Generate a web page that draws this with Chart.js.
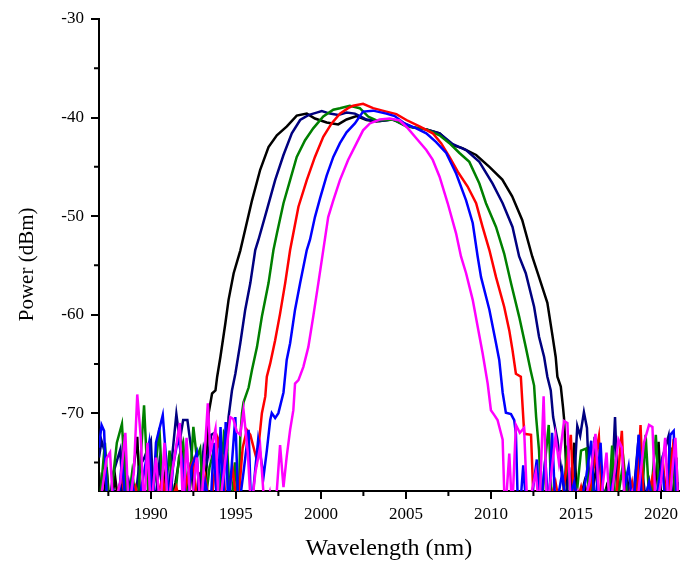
<!DOCTYPE html>
<html>
<head>
<meta charset="utf-8">
<script src="https://cdn.jsdelivr.net/npm/chart.js@4.4.1/dist/chart.umd.min.js"></script>
<style>
  body { margin: 0; background: #fff; }
  #wrap { width: 683px; height: 565px; }
</style>
</head>
<body>
<div id="wrap"><canvas id="spektrum" width="683" height="565"></canvas></div>
<script>
// spectra: [wavelength nm, power dBm]
// values below -78 are the noise dips that fall under the axis
var blackTrace = [
  [1986.95,-76.0],[1987.15,-80],[1987.4,-75.5],[1987.6,-80],[1987.9,-76.5],[1988.15,-80],[1988.4,-72.2],[1988.6,-80],
  [1988.9,-77.0],[1989.2,-72.4],[1989.4,-80],[1989.75,-78.2],[1990.0,-80],[1990.3,-75.0],[1990.5,-80],[1990.85,-76.0],
  [1991.1,-80],[1991.45,-77.0],[1991.8,-73.4],[1992.05,-80],[1992.35,-75.0],[1992.6,-80],[1992.85,-76.0],[1993.05,-80],
  [1993.21,-77.8],[1993.40,-70.0],[1993.60,-68.0],[1993.80,-67.7],[1993.90,-66.3],[1994.09,-64.3],[1994.38,-60.9],
  [1994.57,-58.5],[1994.87,-55.8],[1995.26,-53.5],[1995.45,-52.1],[1995.95,-48.4],[1996.43,-45.3],[1996.92,-43.0],
  [1997.41,-41.8],[1998.0,-40.9],[1998.58,-39.8],[1999.17,-39.6],[1999.65,-40.1],[2000.34,-40.5],[2001.02,-40.7],
  [2001.51,-40.2],[2002.10,-39.85],[2002.68,-40.25],[2003.27,-40.4],[2004.15,-40.2],[2004.63,-40.4],[2005.40,-41.0],
  [2006.20,-41.2],[2006.98,-41.6],[2007.74,-42.8],[2008.32,-43.1],[2009.13,-43.8],[2009.91,-45.0],[2010.67,-46.3],
  [2011.25,-48.0],[2011.84,-50.4],[2012.43,-54.1],[2012.83,-56.2],[2013.32,-58.8],[2013.60,-61.9],[2013.81,-64.3],
  [2013.91,-66.3],[2014.11,-67.3],[2014.24,-69.4],[2014.30,-70.5],[2014.48,-77.8],
  [2014.6,-80],[2014.9,-73.0],[2015.1,-80],[2015.5,-77],[2015.8,-80],[2016.2,-75.5],[2016.45,-80],[2016.8,-77.5],
  [2017.1,-80],[2017.4,-74.0],[2017.6,-80],[2018.0,-76.5],[2018.3,-80],[2018.7,-75.0],[2018.95,-80],[2019.3,-77],
  [2019.55,-80],[2019.86,-72.9],[2020.05,-80],[2020.4,-76],[2020.65,-80],[2020.9,-74.5],[2021.05,-80]
];
var navyTrace = [
  [1986.95,-74.5],[1987.1,-72.8],[1987.3,-74.0],[1987.5,-80],[1987.8,-76],[1988.2,-73.7],[1988.4,-80],[1988.7,-77],
  [1989.0,-80],[1989.3,-75.5],[1989.6,-74.6],[1990.0,-72.8],[1990.2,-80],[1990.5,-75.0],[1990.8,-80],[1991.1,-77],
  [1991.5,-70.1],[1991.7,-72.8],[1991.9,-70.7],[1992.15,-70.7],[1992.4,-74.0],[1992.65,-80],[1992.9,-77.0],[1993.1,-73.6],
  [1993.3,-75.0],[1993.55,-72.2],[1993.75,-72.0],[1993.95,-72.6],[1994.15,-73.0],[1994.3,-74.0],
  [1994.48,-73.8],[1994.57,-70.4],[1994.77,-67.7],[1994.97,-66.0],[1995.26,-62.9],[1995.55,-59.5],[1995.85,-56.8],
  [1996.14,-53.45],[1996.33,-52.4],[1996.82,-49.4],[1997.31,-46.35],[1997.80,-43.8],[1998.29,-41.6],[1998.78,-40.25],
  [1999.26,-39.75],[1999.75,-39.5],[2000.05,-39.35],[2000.53,-39.6],[2001.02,-39.75],[2001.51,-39.5],[2002.0,-39.6],
  [2002.29,-39.85],[2002.68,-40.2],[2003.46,-40.35],[2004.24,-40.2],[2005.03,-40.9],[2006.20,-41.2],[2006.98,-41.6],
  [2007.76,-42.7],[2008.54,-43.3],[2009.32,-44.5],[2010.10,-46.7],[2010.69,-48.7],[2011.27,-51.1],[2011.66,-54.1],
  [2012.05,-55.8],[2012.54,-59.2],[2012.83,-62.25],[2013.13,-64.3],[2013.32,-66.3],[2013.52,-67.7],[2013.66,-70.4],
  [2013.91,-72.7],[2014.11,-75.45],[2014.30,-77.8],
  [2014.35,-80],[2014.6,-75.5],[2014.8,-80],[2015.08,-71.3],[2015.25,-72.3],[2015.47,-69.9],[2015.65,-71.5],[2015.85,-80],
  [2016.1,-72.4],[2016.35,-80],[2016.8,-78],[2017.05,-80],[2017.3,-70.4],[2017.5,-80],[2018.0,-77],[2018.3,-80],
  [2018.7,-72.2],[2018.9,-76],[2019.2,-80],[2019.55,-77],[2019.8,-80],[2020.06,-74.7],[2020.45,-72.3],[2020.7,-80],
  [2021.05,-77]
];
var greenTrace = [
  [1986.95,-80],[1987.3,-73.0],[1987.55,-80],[1988.0,-73.0],[1988.3,-71.1],[1988.6,-80],[1988.9,-76],[1989.2,-80],
  [1989.6,-69.2],[1989.9,-80],[1990.2,-77],[1990.5,-71.5],[1990.75,-80],[1991.1,-73.8],[1991.35,-80],[1991.65,-74.5],
  [1991.9,-73.0],[1992.2,-80],[1992.5,-71.4],[1992.7,-74.5],[1992.9,-73.6],[1993.15,-80],[1993.45,-75.5],[1993.7,-73.8],
  [1994.0,-80],[1994.3,-72.0],[1994.45,-72.5],[1994.7,-80],[1994.95,-75],[1995.15,-80],
  [1995.26,-72.4],[1995.36,-70.0],[1995.45,-68.9],[1995.75,-67.4],[1995.95,-65.6],[1996.24,-63.3],[1996.53,-60.2],
  [1996.92,-56.8],[1997.21,-53.45],[1997.41,-51.8],[1997.80,-48.7],[1998.19,-46.35],[1998.58,-44.0],[1999.07,-42.3],
  [1999.55,-41.1],[2000.14,-39.9],[2000.73,-39.2],[2001.12,-39.05],[2001.70,-38.8],[2002.29,-39.05],[2002.78,-39.9],
  [2003.27,-40.3],[2004.24,-40.2],[2005.03,-40.9],[2006.20,-41.2],[2006.98,-41.8],[2007.56,-42.6],[2008.15,-43.6],
  [2008.73,-44.5],[2009.32,-46.7],[2009.71,-48.7],[2010.30,-51.1],[2010.78,-53.8],[2011.18,-56.8],[2011.66,-60.2],
  [2012.05,-63.3],[2012.34,-65.7],[2012.54,-67.2],[2012.66,-70.4],[2012.83,-73.8],[2012.93,-77.8],
  [2013.0,-80],[2013.13,-75.9],[2013.4,-71.2],[2013.6,-80],[2014.0,-78],[2014.2,-80],[2014.5,-73.3],[2014.7,-80],
  [2015.0,-79],[2015.3,-73.8],[2015.6,-73.6],[2015.8,-80],[2015.96,-76.4],[2016.2,-80],[2016.7,-78],[2016.9,-80],
  [2017.13,-73.3],[2017.35,-80],[2017.8,-74.8],[2018.1,-80],[2018.6,-77],[2018.85,-80],[2019.1,-72.2],[2019.35,-80],
  [2019.7,-72.2],[2019.95,-80],[2020.4,-78],[2020.65,-73.5],[2020.9,-80]
];
var redTrace = [
  [1986.95,-80],[1987.4,-78],[1987.7,-80],[1988.3,-76.5],[1988.6,-80],[1989.1,-77.5],[1989.4,-80],[1989.9,-78],
  [1990.15,-80],[1990.7,-76.5],[1990.95,-80],[1991.5,-77.5],[1991.8,-80],[1992.2,-76],[1992.5,-74.8],[1992.75,-80],
  [1993.2,-76.5],[1993.5,-80],[1993.95,-72.7],[1994.2,-74.5],[1994.45,-80],[1994.8,-75.5],[1995.1,-80],[1995.4,-73.5],
  [1995.65,-71.7],[1995.85,-72.2],[1996.24,-74.8],[1996.33,-73.4],[1996.53,-70.0],[1996.73,-68.3],[1996.82,-66.3],
  [1997.02,-64.95],[1997.31,-62.6],[1997.60,-59.9],[1997.90,-56.8],[1998.19,-53.45],[1998.38,-51.75],[1998.68,-49.05],
  [1999.17,-46.35],[1999.65,-44.0],[2000.14,-41.95],[2000.63,-40.6],[2001.12,-39.6],[2001.60,-39.05],[2001.90,-38.8],
  [2002.48,-38.6],[2003.07,-39.05],[2003.85,-39.4],[2004.44,-39.65],[2005.03,-40.25],[2005.80,-40.9],[2006.58,-41.6],
  [2007.07,-42.6],[2007.56,-44.0],[2008.05,-45.5],[2008.63,-47.0],[2009.13,-48.7],[2009.51,-51.1],[2009.91,-53.45],
  [2010.30,-56.2],[2010.78,-59.2],[2011.08,-61.6],[2011.27,-63.6],[2011.47,-66.0],[2011.76,-66.3],[2011.96,-72.1],
  [2012.36,-72.2],[2012.48,-77.8],
  [2012.6,-80],[2013.0,-78],[2013.3,-80],[2013.8,-77],[2014.1,-80],[2014.7,-72.2],[2014.9,-80],[2015.3,-77.5],
  [2015.6,-80],[2016.0,-76],[2016.35,-72.4],[2016.55,-80],[2017.0,-78],[2017.3,-80],[2017.7,-71.8],[2017.9,-80],
  [2018.3,-77],[2018.55,-80],[2018.8,-71.2],[2019.0,-80],[2019.5,-76.5],[2019.75,-80],[2020.1,-74.5],[2020.35,-80],
  [2020.75,-72.6],[2020.95,-80]
];
var blueTrace = [
  [1986.95,-73.5],[1987.1,-71.2],[1987.25,-71.8],[1987.45,-80],[1987.8,-78],[1988.05,-80],[1988.3,-74.7],[1988.55,-80],
  [1988.9,-77],[1989.2,-80],[1989.6,-76],[1989.9,-73.0],[1990.1,-80],[1990.3,-73.0],[1990.7,-70.2],[1990.9,-74.7],
  [1991.1,-80],[1991.3,-75.5],[1991.6,-72.5],[1991.85,-74.7],[1992.1,-80],[1992.4,-75.5],[1992.7,-74],[1992.9,-80],
  [1993.2,-77],[1993.5,-80],[1993.7,-73.0],[1993.9,-80],[1994.1,-71.4],[1994.25,-80],[1994.4,-70.9],[1994.55,-80],
  [1994.97,-70.4],[1995.15,-80],[1995.45,-76],[1995.75,-71.7],[1995.9,-80],
  [1996.31,-72.7],[1996.63,-76.4],[1996.82,-73.8],[1997.02,-70.7],[1997.11,-70.0],[1997.31,-70.5],[1997.50,-70.0],
  [1997.80,-67.9],[1997.99,-64.6],[1998.19,-62.9],[1998.48,-59.5],[1998.78,-56.8],[1999.17,-53.45],[1999.36,-52.4],
  [1999.65,-50.1],[1999.95,-48.2],[2000.34,-45.9],[2000.73,-44.0],[2001.12,-42.6],[2001.51,-41.5],[2002.0,-40.6],
  [2002.48,-39.4],[2003.07,-39.3],[2003.85,-39.6],[2004.34,-39.85],[2004.92,-40.6],[2005.61,-41.1],[2006.20,-41.6],
  [2006.78,-42.5],[2007.37,-43.6],[2007.96,-45.7],[2008.54,-48.4],[2008.93,-50.7],[2009.22,-54.1],[2009.42,-56.2],
  [2009.91,-59.5],[2010.30,-62.9],[2010.49,-64.6],[2010.69,-67.9],[2010.88,-69.95],[2011.18,-70.1],[2011.37,-70.7],
  [2011.47,-72.1],[2011.56,-77.8],
  [2011.7,-80],[2011.9,-75.3],[2012.1,-80],[2012.45,-78],[2012.7,-74.7],[2012.9,-80],[2013.2,-74.7],[2013.4,-80],
  [2013.6,-72.0],[2013.8,-80],[2014.2,-76],[2014.45,-80],[2014.9,-77],[2015.2,-80],[2015.6,-76.5],[2015.9,-72.8],
  [2016.1,-80],[2016.45,-73.0],[2016.65,-80],[2017.1,-77.5],[2017.4,-80],[2017.8,-78],[2018.1,-75.4],[2018.35,-80],
  [2018.7,-72.2],[2018.9,-80],[2019.3,-77],[2019.6,-80],[2020.06,-75],[2020.3,-80],[2020.55,-72.2],[2020.75,-71.8],
  [2020.95,-80]
];
var magentaTrace = [
  [1986.95,-80],[1987.2,-77],[1987.4,-74.6],[1987.6,-74.0],[1987.8,-80],[1988.2,-77],[1988.5,-72.0],[1988.7,-80],
  [1989.0,-76],[1989.2,-68.1],[1989.4,-72.3],[1989.6,-80],[1989.8,-73.0],[1990.0,-80],[1990.3,-74.5],[1990.55,-80],
  [1990.8,-73.0],[1991.0,-80],[1991.25,-76],[1991.7,-71.0],[1991.9,-80],[1992.1,-72.5],[1992.35,-80],[1992.7,-74.5],
  [1992.95,-80],[1993.35,-69.0],[1993.5,-74],[1993.7,-72.4],[1993.8,-71.6],[1994.0,-80],[1994.3,-76],[1994.67,-70.4],
  [1994.85,-70.6],[1995.06,-71.9],[1995.26,-72.2],[1995.45,-69.7],[1995.7,-74],[1995.9,-80],[1996.15,-76],[1996.43,-73.4],
  [1996.7,-80],[1997.0,-78],[1997.2,-80],
  [1997.41,-77.8],[1997.60,-73.25],[1997.80,-77.5],[1997.99,-74.4],[1998.19,-71.7],[1998.38,-69.7],[1998.48,-67.0],
  [1998.68,-66.65],[1998.97,-65.3],[1999.26,-63.3],[1999.55,-60.2],[1999.85,-56.8],[2000.14,-53.45],[2000.43,-50.1],
  [2000.73,-48.4],[2001.12,-46.35],[2001.60,-44.3],[2002.10,-42.6],[2002.48,-41.3],[2002.88,-40.6],[2003.46,-40.2],
  [2004.05,-40.1],[2004.63,-40.3],[2005.12,-41.1],[2005.61,-42.1],[2006.20,-43.3],[2006.58,-44.3],[2006.98,-46.0],
  [2007.46,-48.7],[2007.95,-51.75],[2008.24,-54.1],[2008.54,-55.8],[2008.93,-58.5],[2009.22,-61.2],[2009.51,-63.9],
  [2009.81,-67.0],[2010.0,-69.7],[2010.20,-70.2],[2010.39,-70.7],[2010.69,-72.7],[2010.78,-77.8],
  [2010.85,-80],[2011.08,-74.1],[2011.25,-80],[2011.47,-71.2],[2011.7,-72],[2011.95,-71.5],[2012.15,-80],[2012.64,-76.0],
  [2012.85,-80],[2013.1,-68.3],[2013.3,-80],[2013.8,-72.3],[2014.0,-75],[2014.3,-70.8],[2014.5,-71.0],[2014.7,-80],
  [2015.1,-78],[2015.35,-80],[2015.8,-77],[2016.15,-72.1],[2016.4,-80],[2016.8,-74.0],[2017.0,-80],[2017.5,-72.7],
  [2017.7,-73.5],[2017.9,-80],[2018.3,-78],[2018.55,-80],[2019.0,-73.0],[2019.3,-71.2],[2019.5,-71.4],[2019.7,-80],
  [2020.0,-77],[2020.25,-72.5],[2020.45,-80],[2020.85,-72.5],[2021.05,-80]
];

var xMajorTicks = [1990, 1995, 2000, 2005, 2010, 2015, 2020];
var xMinorTicks = [1987.5, 1992.5, 1997.5, 2002.5, 2007.5, 2012.5, 2017.5];
var yMajorTicks = [-30, -40, -50, -60, -70];
var yMinorTicks = [-35, -45, -55, -65, -75];
var yBaslik = 'Power (dBm)';

var serif = "'Liberation Serif', 'Times New Roman', serif";

function noktalar(trace) {
  var out = [];
  for (var i = 0; i < trace.length; i++) {
    out.push({x: trace[i][0], y: trace[i][1]});
  }
  return out;
}

function seri(trace, color) {
  return {
    data: noktalar(trace),
    borderColor: color,
    borderWidth: 2.5,
    pointRadius: 0,
    fill: false,
    tension: 0
  };
}

// short minor ticks (Chart.js has none) and the y title a little below centre
var araCizgiler = {
  id: 'araCizgiler',
  afterDraw: function (chart) {
    var ctx = chart.ctx;
    var xs = chart.scales.x, ys = chart.scales.y;
    var alt = chart.chartArea.bottom, sol = chart.chartArea.left;
    ctx.save();
    ctx.strokeStyle = '#000';
    ctx.lineWidth = 2;
    ctx.beginPath();
    xMinorTicks.forEach(function (v) {
      var px = xs.getPixelForValue(v);
      ctx.moveTo(px, alt);
      ctx.lineTo(px, alt + 5);
    });
    yMinorTicks.forEach(function (v) {
      var py = ys.getPixelForValue(v);
      ctx.moveTo(sol, py);
      ctx.lineTo(sol - 5, py);
    });
    ctx.stroke();

    ctx.translate(27, ys.getPixelForValue(-54.9));
    ctx.rotate(-Math.PI / 2);
    ctx.fillStyle = '#000';
    ctx.font = '21px ' + serif;
    ctx.textAlign = 'center';
    ctx.textBaseline = 'middle';
    ctx.fillText(yBaslik, 0, 0);
    ctx.restore();
  }
};

var ctx = document.getElementById('spektrum');
var grafik = new Chart(ctx, {
  type: 'line',
  data: {
    datasets: [
      seri(magentaTrace, '#FF00FF'),
      seri(blueTrace, '#0000FF'),
      seri(redTrace, '#FF0000'),
      seri(greenTrace, '#008000'),
      seri(navyTrace, '#000080'),
      seri(blackTrace, '#000000')
    ]
  },
  options: {
    responsive: false,
    animation: false,
    layout: { padding: { top: 19, right: 2, left: 0, bottom: 0 } },
    plugins: { legend: { display: false }, tooltip: { enabled: false } },
    scales: {
      x: {
        type: 'linear',
        min: 1986.95,
        max: 2021.05,
        afterFit: function (s) { s.height = 74; },
        afterBuildTicks: function (s) { s.ticks = xMajorTicks.map(function (v) { return {value: v}; }); },
        grid: { drawOnChartArea: false, drawTicks: true, tickLength: 8, color: '#000', lineWidth: 2 },
        border: { display: true, color: '#000', width: 2 },
        ticks: {
          color: '#000', padding: 5, maxRotation: 0, autoSkip: false,
          font: { family: serif, size: 17 },
          callback: function (v) { return String(v); }
        },
        title: {
          display: true, text: 'Wavelength (nm)', color: '#000',
          font: { family: serif, size: 24 }, padding: { top: 0, bottom: 2 }
        }
      },
      y: {
        type: 'linear',
        min: -77.9,
        max: -30,
        afterFit: function (s) { s.width = 99; },
        afterBuildTicks: function (s) { s.ticks = yMajorTicks.map(function (v) { return {value: v}; }); },
        grid: { drawOnChartArea: false, drawTicks: true, tickLength: 8, color: '#000', lineWidth: 2 },
        border: { display: true, color: '#000', width: 2 },
        ticks: {
          color: '#000', padding: 7, autoSkip: false,
          font: { family: serif, size: 17 },
          callback: function (v) { return String(v); }
        },
        title: { display: false }
      }
    }
  },
  plugins: [araCizgiler]
});
</script>
</body>
</html>
